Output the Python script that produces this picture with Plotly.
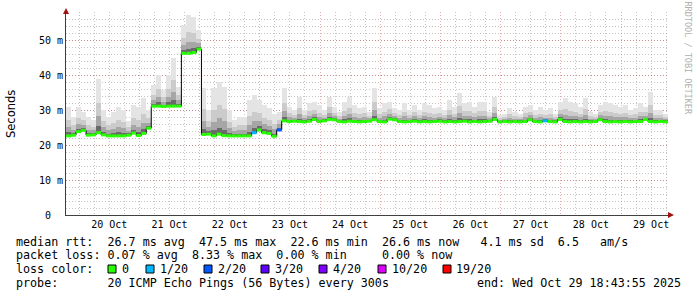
import plotly.graph_objects as go
import pandas as pd

# ---------------- data ----------------
start_time = "2025-10-19 18:43:55"
end_time = "2025-10-29 18:43:55"
bin_hours = 2

# median RTT per 2-hour bin, in milliseconds
median_ms = [
    22.6, 22.8, 23.8, 24.2, 22.8, 22.9, 23.5, 22.9, 22.6, 22.6,
    22.6, 22.6, 22.8, 23.4, 22.7, 23.3, 24.8, 31.1, 31.1, 31.0,
    31.1, 31.1, 31.1, 46.2, 46.2, 46.4, 47.4, 23.0, 23.1, 22.6,
    23.1, 22.7, 22.6, 22.6, 22.6, 22.6, 22.6, 23.5, 24.3, 23.5,
    23.3, 22.5, 24.3, 26.9, 26.7, 26.8, 26.7, 26.6, 26.8, 27.3,
    26.7, 26.9, 27.3, 27.2, 26.7, 26.6, 26.8, 26.7, 26.6, 26.7,
    26.8, 27.2, 26.7, 26.6, 27.4, 27.2, 26.7, 26.6, 26.7, 26.8,
    26.6, 26.7, 26.6, 26.7, 26.8, 26.6, 26.7, 26.6, 26.7, 26.8,
    26.6, 26.7, 26.6, 26.7, 26.8, 27.3, 26.6, 26.7, 26.6, 26.7,
    26.6, 26.7, 27.2, 26.7, 26.6, 26.9, 26.7, 26.6, 27.3, 26.7,
    26.6, 26.7, 26.6, 26.7, 26.6, 26.7, 27.2, 26.7, 26.6, 26.7,
    26.6, 26.7, 26.6, 26.7, 26.7, 27.3, 26.7, 26.6, 26.7, 26.6,
]

# highest ping of each bin (top of the smoke), in milliseconds
smoke_max_ms = [
    31.0, 28.1, 31.0, 29.5, 28.1, 27.1, 39.0, 30.0, 28.1, 29.5,
    31.0, 30.0, 27.0, 31.4, 31.0, 33.3, 30.0, 37.1, 40.0, 35.7,
    40.0, 44.8, 36.7, 54.3, 57.1, 56.7, 52.9, 36.2, 30.0, 36.2,
    38.1, 36.7, 30.0, 27.1, 28.1, 28.1, 32.9, 34.3, 32.9, 31.4,
    30.5, 29.0, 29.5, 36.2, 30.9, 30.0, 33.8, 30.0, 31.9, 32.4,
    31.4, 30.0, 33.8, 30.9, 29.5, 32.4, 33.8, 31.4, 30.5, 30.9,
    29.5, 36.2, 30.5, 31.9, 32.4, 30.5, 30.0, 31.9, 30.0, 31.4,
    30.0, 31.9, 31.4, 30.5, 30.9, 30.0, 32.9, 30.9, 34.8, 31.9,
    32.4, 30.9, 32.4, 32.4, 29.5, 33.8, 28.6, 29.0, 30.5, 29.5,
    29.0, 30.9, 31.4, 30.0, 30.9, 30.0, 30.5, 29.0, 32.4, 33.3,
    32.4, 31.9, 30.9, 33.3, 29.5, 29.0, 31.4, 32.4, 31.9, 31.4,
    30.9, 31.4, 30.0, 30.5, 31.9, 31.0, 35.2, 30.0, 30.0, 29.0,
]

# lost pings (out of 20) per bin
loss_of_20 = [0] * 120
loss_of_20[37] = 1
loss_of_20[42] = 2
loss_of_20[95] = 1

y_tick_vals = [0, 10, 20, 30, 40, 50]
y_tick_text = ["0\u00a0\u00a0", "10\u00a0m", "20\u00a0m", "30\u00a0m", "40\u00a0m", "50\u00a0m"]

loss_levels = ["0", "1/20", "2/20", "3/20", "4/20", "10/20", "19/20"]
loss_level_counts = [0, 1, 2, 3, 4, 10, 19]
loss_colors = ["#26ff00", "#00b8ff", "#0059ff", "#5e00ff", "#7e00ff", "#dd00ff", "#ff0000"]

legend_lines = [
    "median rtt:  26.7 ms avg  47.5 ms max  22.6 ms min  26.6 ms now   4.1 ms sd  6.5   am/s",
    "packet loss: 0.07 % avg  8.33 % max  0.00 % min     0.00 % now",
    "loss color:",
    "probe:       20 ICMP Echo Pings (56 Bytes) every 300s",
]
end_text = "end: Wed Oct 29 18:43:55 2025"

# ---------------- geometry helpers (pixels -> paper) ----------------
W, H = 697, 297
L, R, T, B = 66, 668, 12, 215


def px(x):
    return (x - L) / (R - L)


def py(y):
    return (B - y) / (B - T)


def nb(s):
    return s.replace(" ", "\u00a0")


MONO = "DejaVu Sans Mono"

t0 = pd.Timestamp(start_time)
t1 = pd.Timestamp(end_time)
step = pd.Timedelta(hours=bin_hours)
bin_start = [t0 + step * i for i in range(len(median_ms))]
bin_mid = [t + step / 2 for t in bin_start]
bin_w = step.total_seconds() * 1000

fig = go.Figure()

# smoke layers: lighter far from the median, darker near it
smoke_layers = [(1.0, "#e4e4e4"), (0.55, "#cbcbcb"), (0.3, "#a6a6a6"), (0.12, "#6a6a6a")]
for frac, col in smoke_layers:
    fig.add_trace(go.Bar(
        x=bin_mid,
        y=[(mx - md) * frac for mx, md in zip(smoke_max_ms, median_ms)],
        base=median_ms,
        width=bin_w,
        marker=dict(color=col, line=dict(width=0)),
        hoverinfo="skip",
    ))

# thin black median step line
fig.add_trace(go.Scatter(
    x=bin_start + [t1],
    y=median_ms + [median_ms[-1]],
    mode="lines",
    line=dict(color="#000000", width=1, shape="hv"),
    hoverinfo="skip",
))

# loss-coloured median segments
for cnt, col in zip(loss_level_counts, loss_colors):
    xs, ys = [], []
    for t, m, lo in zip(bin_start, median_ms, loss_of_20):
        if lo == cnt:
            xs += [t, t + step, None]
            ys += [m, m, None]
    if xs:
        fig.add_trace(go.Scatter(
            x=xs, y=ys, mode="lines",
            line=dict(color=col, width=3),
            hoverinfo="skip",
        ))

major_grid = "rgba(200,70,70,0.45)"
minor_grid = "rgba(140,140,140,0.5)"
grid_dash = "1px,2px"

fig.update_layout(
    width=W, height=H,
    margin=dict(l=L, r=W - R, t=T, b=H - B, pad=0),
    paper_bgcolor="#ffffff",
    plot_bgcolor="#ffffff",
    barmode="overlay",
    bargap=0,
    showlegend=False,
    font=dict(family=MONO, size=10, color="#000000"),
    xaxis=dict(
        type="date",
        range=[t0, t1],
        tick0="2025-10-20 00:00:00",
        dtick=86400000,
        tickformat="%d %b",
        ticklabelmode="period",
        showgrid=True, gridcolor=major_grid, griddash=grid_dash, gridwidth=1,
        minor=dict(dtick=21600000, tick0="2025-10-20 00:00:00",
                   showgrid=True, gridcolor=minor_grid, griddash=grid_dash, gridwidth=1),
        showline=True, linecolor="#404040", linewidth=1,
        zeroline=False, ticks="",
        tickfont=dict(family=MONO, size=10, color="#000000"),
        fixedrange=True,
    ),
    yaxis=dict(
        range=[0, 58],
        tickvals=y_tick_vals, ticktext=y_tick_text,
        showgrid=True, gridcolor=major_grid, griddash=grid_dash, gridwidth=1,
        minor=dict(dtick=2, tick0=0, showgrid=True, gridcolor=minor_grid,
                   griddash=grid_dash, gridwidth=1),
        showline=True, linecolor="#404040", linewidth=1,
        zeroline=False, ticks="",
        tickfont=dict(family=MONO, size=10, color="#000000"),
        fixedrange=True,
    ),
)

shapes = []
# axis arrow heads
shapes.append(dict(type="path", xref="paper", yref="paper",
                   path=f"M {px(63)} {py(14)} L {px(69)} {py(14)} L {px(66)} {py(8)} Z",
                   fillcolor="#a01010", line=dict(width=0)))
shapes.append(dict(type="path", xref="paper", yref="paper",
                   path=f"M {px(668)} {py(212)} L {px(668)} {py(218)} L {px(674)} {py(215)} Z",
                   fillcolor="#a01010", line=dict(width=0)))

annotations = []
line_y = [241.7, 255.3, 269.0, 282.7]
for txt, yy in zip(legend_lines, line_y):
    annotations.append(dict(text=nb(txt), x=px(15.5), y=py(yy), xref="paper", yref="paper",
                            xanchor="left", yanchor="middle", showarrow=False,
                            font=dict(family=MONO, size=11.7, color="#000000"),
                            borderpad=0, borderwidth=0))
annotations.append(dict(text=nb(end_text), x=px(681), y=py(line_y[3]), xref="paper", yref="paper",
                        xanchor="right", yanchor="middle", showarrow=False,
                        font=dict(family=MONO, size=11.7, color="#000000"),
                        borderpad=0, borderwidth=0))

box_x = [108, 146, 204, 261, 319, 378, 443]
for lbl, col, bx in zip(loss_levels, loss_colors, box_x):
    shapes.append(dict(type="rect", xref="paper", yref="paper",
                       x0=px(bx), x1=px(bx + 8), y0=py(line_y[2] + 4), y1=py(line_y[2] - 4),
                       fillcolor=col, line=dict(color="#000000", width=1)))
    annotations.append(dict(text=nb(lbl), x=px(bx + 13.5), y=py(line_y[2]), xref="paper", yref="paper",
                            xanchor="left", yanchor="middle", showarrow=False,
                            font=dict(family=MONO, size=11.7, color="#000000"),
                            borderpad=0, borderwidth=0))

# axis title
annotations.append(dict(text="Seconds", x=px(11), y=py(114), xref="paper", yref="paper",
                        xanchor="center", yanchor="middle", textangle=-90, showarrow=False,
                        font=dict(family="DejaVu Sans", size=11.5, color="#000000")))
# watermark
annotations.append(dict(text=nb("RRDTOOL / TOBI OETIKER"), x=px(687.5), y=py(58), xref="paper", yref="paper",
                        xanchor="center", yanchor="middle", textangle=90, showarrow=False,
                        font=dict(family=MONO, size=8.5, color="#b0b0b0")))

fig.update_layout(shapes=shapes, annotations=annotations)

fig.write_html("out.html")
